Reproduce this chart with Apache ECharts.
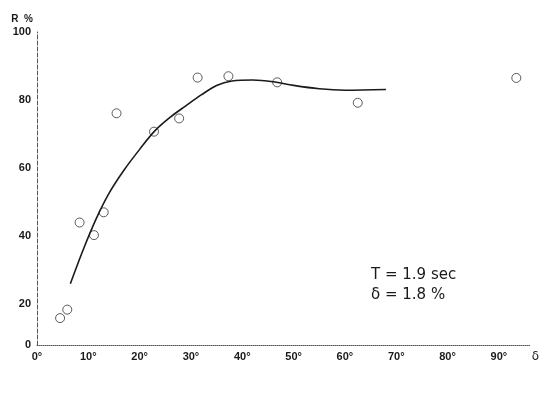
<!DOCTYPE html>
<html>
<head>
<meta charset="utf-8">
<script src="https://cdn.jsdelivr.net/npm/echarts@6/dist/echarts.min.js"></script>
<style>html,body{margin:0;padding:0;background:#fff}#c{width:542px;height:393px}</style>
</head>
<body>
<div id="c"></div>
<script>
// measured points: [angle in degrees, R %]
const pointAngles = [4.5, 5.9, 8.3, 11.1, 13.0, 15.5, 22.8, 27.7, 31.3, 37.3, 46.8, 62.5, 93.4];
const pointValues = [15.9, 18.4, 44.0, 40.3, 47.0, 76.1, 70.7, 74.6, 86.6, 87.0, 85.2, 79.2, 86.5];
// fitted curve as drawn in the reference
const curveAngles = [6.5, 9.0, 11.5, 14.0, 17.0, 20.0, 23.0, 26.0, 29.0, 32.0, 35.0, 38.0, 42.0, 46.0, 50.0, 55.0, 60.0, 68.0];
const curveValues = [26.0, 36.0, 45.0, 52.5, 59.5, 65.5, 71.0, 75.0, 78.3, 81.5, 84.3, 85.6, 85.9, 85.4, 84.3, 83.3, 82.9, 83.1];
const yTicks = [8, 20, 40, 60, 80, 100];
const yTickText = ['0', '20', '40', '60', '80', '100'];
const xTicks = [0, 10, 20, 30, 40, 50, 60, 70, 80, 90];

const chart = echarts.init(document.getElementById('c'));
const ink = '#1a1a1a';
chart.setOption({
  backgroundColor: '#fff',
  animation: false,
  grid: { left: 37, right: 8, top: 32, bottom: 48 },
  xAxis: {
    type: 'value', min: 0, max: 96,
    name: 'δ', nameLocation: 'end', nameGap: 2,
    nameTextStyle: { color: ink, fontSize: 12, fontFamily: 'DejaVu Sans', verticalAlign: 'top', padding: [6, 0, 0, 0] },
    axisLine: { show: true, lineStyle: { color: '#555', width: 1, type: 'dotted' } },
    axisTick: { show: false },
    splitLine: { show: false },
    axisLabel: {
      customValues: xTicks,
      formatter: v => v + '°',
      color: ink, fontSize: 11, fontWeight: 'bold', fontFamily: 'Liberation Sans', margin: 6
    }
  },
  yAxis: {
    type: 'value', min: 8, max: 100,
    name: 'R  %', nameLocation: 'end', nameGap: 8,
    nameTextStyle: { color: ink, fontSize: 10, fontWeight: 'bold', fontFamily: 'Liberation Sans', align: 'right', padding: [0, 4, 0, 0] },
    axisLine: { show: true, lineStyle: { color: '#555', width: 1, type: 'dashed' } },
    axisTick: { show: false },
    splitLine: { show: false },
    axisLabel: {
      customValues: yTicks,
      formatter: v => yTickText[yTicks.indexOf(v)],
      color: ink, fontSize: 11, fontWeight: 'bold', fontFamily: 'Liberation Sans', margin: 6
    }
  },
  series: [
    {
      type: 'line', smooth: 0.35, showSymbol: false,
      data: curveAngles.map((a, i) => [a, curveValues[i]]),
      lineStyle: { color: ink, width: 1.6 }
    },
    {
      type: 'scatter', symbol: 'circle', symbolSize: 9,
      data: pointAngles.map((a, i) => [a, pointValues[i]]),
      itemStyle: { color: '#fff', borderColor: '#333', borderWidth: 1 }
    }
  ],
  graphic: [
    { type: 'text', left: 371, top: 268, style: { text: 'T = 1.9 sec', fill: ink, font: '15px "Liberation Sans Narrow", "DejaVu Sans"' } },
    { type: 'text', left: 371, top: 288, style: { text: 'δ = 1.8 %', fill: ink, font: '15px "Liberation Sans Narrow", "DejaVu Sans"' } }
  ]
});
</script>
</body>
</html>
